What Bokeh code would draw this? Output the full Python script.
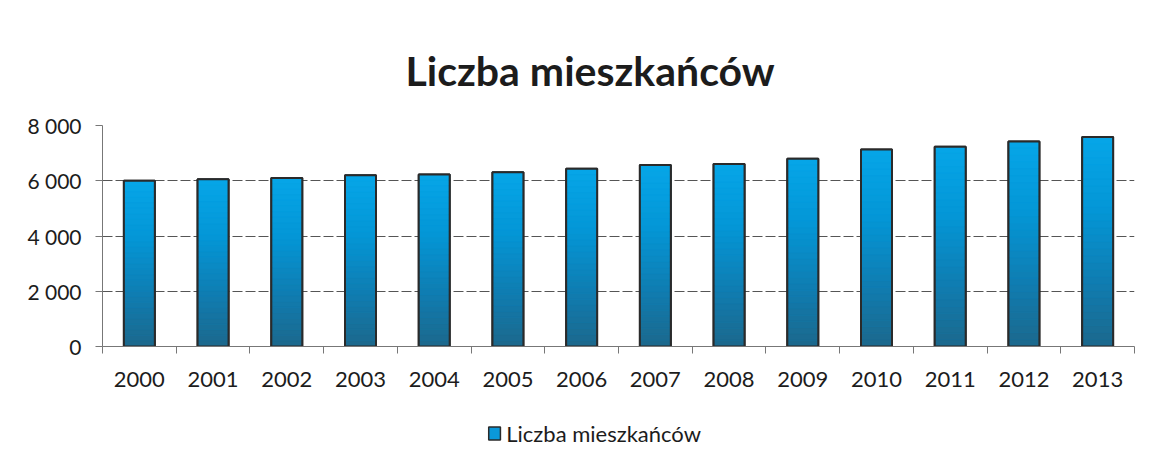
from bokeh.plotting import figure
from bokeh.layouts import column
from bokeh.models import FixedTicker, Range1d, ColumnDataSource
from bokeh.core.properties import value
from bokeh.embed import file_html
from bokeh.resources import INLINE

# ---- data ----
years = ["2000", "2001", "2002", "2003", "2004", "2005", "2006",
         "2007", "2008", "2009", "2010", "2011", "2012", "2013"]
population = [6000, 6050, 6100, 6200, 6230, 6310, 6430,
              6570, 6610, 6800, 7130, 7230, 7420, 7580]
y_ticks = [0, 2000, 4000, 6000, 8000]
y_tick_labels = ["0", "2 000", "4 000", "6 000", "8 000"]
series_name = "Liczba mieszkańców"
title_text = "Liczba mieszkańców"

FONT = "Lato"
TXT = "#1c1c1c"
BAR_W = 0.42
BAR_FILL = "#0a98da"
BAR_LINE = "#2a2a2a"

xs = list(range(len(years)))

p = figure(width=1145, height=404, output_backend="svg", toolbar_location=None,
           x_range=Range1d(-0.5, len(years) - 0.5), y_range=Range1d(0, 8000),
           min_border_left=102, min_border_right=11, min_border_top=125,
           min_border_bottom=58, outline_line_color=None,
           background_fill_color="white", border_fill_color="white")

# base bar
p.vbar(x=xs, top=population, width=BAR_W, fill_color=BAR_FILL,
       line_color=BAR_LINE, line_width=2)

# vertical gradient emulation: stacked slices of each bar
stops = [(0.0, (6, 166, 232)), (0.35, (4, 150, 214)),
         (0.7, (16, 124, 176)), (1.0, (28, 104, 140))]


def grad(t):
    for (t0, c0), (t1, c1) in zip(stops[:-1], stops[1:]):
        if t0 <= t <= t1:
            f = (t - t0) / (t1 - t0)
            return "#%02x%02x%02x" % tuple(int(round(a + (b - a) * f)) for a, b in zip(c0, c1))
    return "#%02x%02x%02x" % stops[-1][1]


N = 30
sx, sb, st, sc = [], [], [], []
for xi, v in zip(xs, population):
    for k in range(N):
        sx.append(xi)
        st.append(v * (1 - k / N))
        sb.append(v * (1 - (k + 1) / N))
        sc.append(grad((k + 0.5) / N))
seg = ColumnDataSource(dict(x=sx, top=st, bottom=sb, color=sc))
p.vbar(x="x", top="top", bottom="bottom", width=BAR_W, fill_color="color",
       line_color="color", line_width=0.5, source=seg)

# outline on top
p.vbar(x=xs, top=population, width=BAR_W, fill_color=None,
       line_color=BAR_LINE, line_width=2)

# title
p.title.text = title_text
p.title.align = "left"
p.title.offset = 303
p.title.text_font = FONT
p.title.text_font_style = "bold"
p.title.text_font_size = "41px"
p.title.text_color = TXT
p.title.standoff = 61

# axes
p.xgrid.grid_line_color = None
p.ygrid.ticker = FixedTicker(ticks=y_ticks)
p.ygrid.grid_line_color = "#555555"
p.ygrid.grid_line_dash = "10 3"
p.ygrid.grid_line_width = 1.2

p.yaxis.ticker = FixedTicker(ticks=y_ticks)
p.yaxis.major_label_overrides = {t: l for t, l in zip(y_ticks, y_tick_labels)}
p.yaxis.major_label_text_font = FONT
p.yaxis.major_label_text_font_size = "21px"
p.yaxis.major_label_text_color = TXT
p.yaxis.major_label_standoff = 14
p.yaxis.major_tick_out = 7
p.yaxis.major_tick_in = 0
p.yaxis.minor_tick_line_color = None
p.yaxis.axis_line_color = "#777777"
p.yaxis.major_tick_line_color = "#777777"

p.xaxis.ticker = FixedTicker(ticks=xs, minor_ticks=[i - 0.5 for i in range(len(years) + 1)])
p.xaxis.major_label_overrides = {i: y for i, y in zip(xs, years)}
p.xaxis.major_label_text_font = FONT
p.xaxis.major_label_text_font_size = "22px"
p.xaxis.major_label_text_color = TXT
p.xaxis.major_label_standoff = 18
p.xaxis.major_tick_line_color = None
p.xaxis.minor_tick_line_color = "#777777"
p.xaxis.minor_tick_out = 7
p.xaxis.minor_tick_in = 0
p.xaxis.axis_line_color = "#777777"

# legend strip below the chart (pixel-unit canvas)
LW, LH = 1145, 48
lf = figure(width=LW, height=LH, output_backend="svg", toolbar_location=None,
            x_range=Range1d(0, LW), y_range=Range1d(0, LH),
            x_axis_type=None, y_axis_type=None, min_border=0,
            outline_line_color=None, background_fill_color="white",
            border_fill_color="white")
lf.xgrid.grid_line_color = None
lf.ygrid.grid_line_color = None
lf.rect(x=[435], y=[19], width=13, height=13, fill_color=BAR_FILL,
        line_color=BAR_LINE, line_width=1.5)
lf.text(x=[448], y=[19], text=[series_name], text_font=value(FONT),
        text_font_size="22px", text_baseline="middle", text_color=TXT)

open("out.html", "w").write(file_html(column(p, lf), INLINE))
